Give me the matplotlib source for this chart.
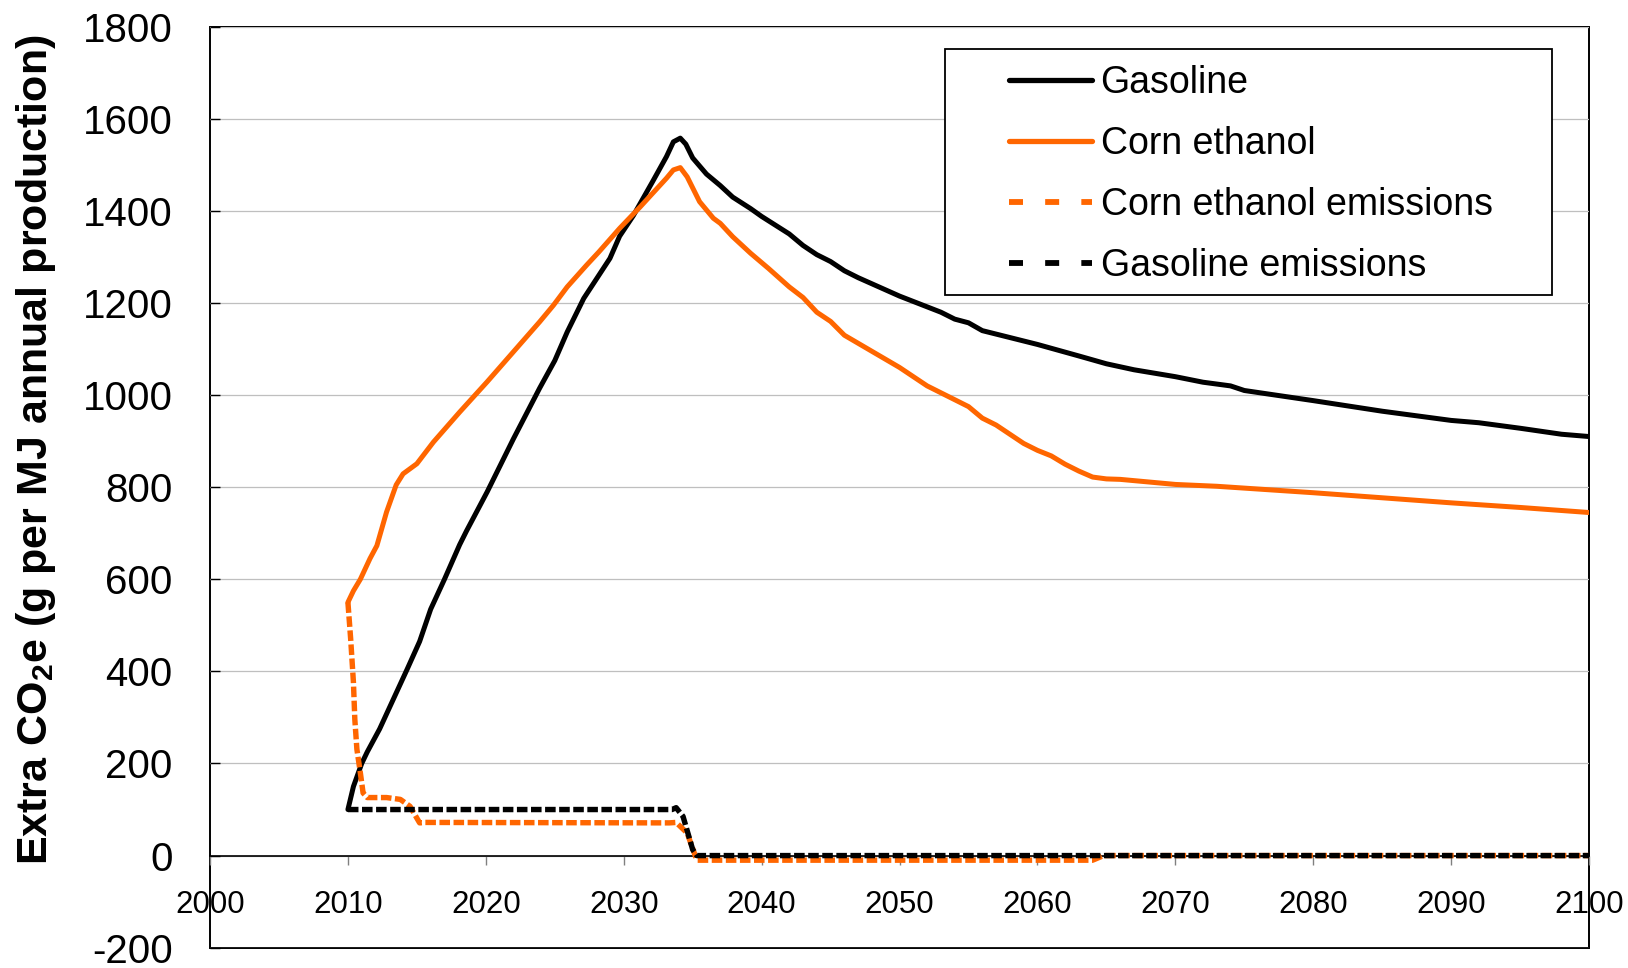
import matplotlib
matplotlib.use("Agg")
import matplotlib.pyplot as plt
from matplotlib.lines import Line2D
from matplotlib.patches import Rectangle
from matplotlib import font_manager as fm

# ---- data -------------------------------------------------------------
gasoline_years = [2010.0, 2010.4, 2011.0, 2011.4, 2012.3, 2013.3, 2014.3, 2015.2,
                  2016.0, 2017.0, 2018.1, 2018.6, 2020.1, 2022.0, 2023.9, 2025.0,
                  2025.9, 2027.1, 2029.0, 2029.7, 2030.7, 2032.1, 2033.1, 2033.6,
                  2034.1, 2034.5, 2035.0, 2036.0, 2037.0, 2037.9, 2039.2, 2040.0,
                  2042.0, 2043.0, 2044.0, 2045.0, 2046.0, 2047.0, 2050.0, 2053.0,
                  2054.0, 2055.0, 2056.0, 2060.0, 2063.0, 2065.0, 2067.0, 2070.0,
                  2072.0, 2074.0, 2075.0, 2080.0, 2085.0, 2090.0, 2092.0, 2095.0,
                  2098.0, 2100.0]
gasoline = [100, 150, 200, 225, 275, 340, 405, 465,
            535, 600, 675, 705, 790, 905, 1015, 1075,
            1137, 1210, 1297, 1345, 1390, 1464, 1518, 1550,
            1558, 1545, 1515, 1480, 1455, 1430, 1405, 1388,
            1350, 1325, 1305, 1290, 1270, 1255, 1215, 1180,
            1165, 1157, 1140, 1110, 1085, 1068, 1055, 1040,
            1028, 1020, 1010, 988, 965, 945, 940, 928,
            915, 910]

ethanol_years = [2010.0, 2010.4, 2010.9, 2011.6, 2012.1, 2012.8, 2013.5, 2014.0,
                 2015.0, 2016.2, 2018.1, 2020.1, 2022.0, 2023.9, 2024.9, 2025.9,
                 2027.3, 2028.2, 2029.7, 2031.2, 2033.1, 2033.6, 2034.1, 2034.6,
                 2035.5, 2036.5, 2037.0, 2037.9, 2039.2, 2040.5, 2042.0, 2043.0,
                 2044.0, 2045.0, 2046.0, 2048.0, 2050.0, 2051.0, 2052.0, 2053.0,
                 2055.0, 2056.0, 2057.0, 2058.0, 2059.0, 2060.0, 2061.0, 2062.0,
                 2063.0, 2064.0, 2065.0, 2066.0, 2070.0, 2073.0, 2075.0, 2080.0,
                 2085.0, 2090.0, 2095.0, 2100.0]
ethanol = [550, 575, 600, 645, 673, 746, 805, 829,
           851, 898, 963, 1029, 1094, 1159, 1195, 1235,
           1282, 1311, 1362, 1409, 1471, 1489, 1494, 1474,
           1420, 1384, 1373, 1344, 1308, 1275, 1235, 1212,
           1180, 1160, 1130, 1095, 1060, 1040, 1020, 1005,
           975, 950, 935, 915, 895, 880, 868, 850,
           835, 822, 818, 817, 806, 802, 798, 788,
           777, 766, 756, 745]

ethanol_emis_years = [2010.0, 2010.2, 2010.4, 2010.5, 2010.65, 2010.9, 2011.1, 2011.4,
                      2012.8, 2013.8, 2014.5, 2015.2, 2015.6, 2033.3, 2033.8, 2034.6,
                      2035.3, 2064.0, 2064.8, 2100.0]
ethanol_emis = [550, 470, 376, 296, 231, 180, 136, 126,
                126, 122, 107, 71, 72, 71, 72, 49,
                -10, -10, 0, 0]

gasoline_emis_years = [2010.0, 2033.5, 2033.8, 2034.3, 2035.0, 2035.3, 2100.0]
gasoline_emis = [100, 100, 104, 85, 13, 0, 0]

x_ticks = list(range(2000, 2101, 10))
y_ticks = list(range(-200, 1801, 200))
series_labels = ["Gasoline", "Corn ethanol", "Corn ethanol emissions", "Gasoline emissions"]
y_label = r"Extra CO$_{\mathbf{2}}$e (g per MJ annual production)"

# ---- styling ----------------------------------------------------------
ORANGE = "#FF6600"
BLACK = "#000000"

installed = {f.name for f in fm.fontManager.ttflist}
if "Liberation Sans Narrow" in installed:
    label_family, label_size = "Liberation Sans Narrow", 38
else:
    label_family, label_size = "Liberation Sans", 31

plt.rcParams["font.family"] = ["Liberation Sans", "DejaVu Sans"]
plt.rcParams["axes.unicode_minus"] = False
plt.rcParams["mathtext.fontset"] = "custom"
plt.rcParams["mathtext.rm"] = f"{label_family}:bold"
plt.rcParams["mathtext.bf"] = f"{label_family}:bold"
plt.rcParams["mathtext.it"] = f"{label_family}:bold"

fig = plt.figure(figsize=(16.28, 9.68), dpi=100)
ax = fig.add_axes([0.1290, 0.0210, 0.9761 - 0.1290, 0.9724 - 0.0210])

ax.set_xlim(2000, 2100)
ax.set_ylim(-200, 1800)

# plot-area frame
ax.patch.set_edgecolor("black")
ax.patch.set_linewidth(1.4)
for side in ("top", "right", "left"):
    ax.spines[side].set_visible(False)
ax.spines["bottom"].set_position(("data", 0))
ax.spines["bottom"].set_linewidth(1.2)
ax.spines["bottom"].set_zorder(1.5)

ax.set_yticks(y_ticks)
ax.set_yticklabels([str(v) for v in y_ticks])
ax.set_xticks(x_ticks)
ax.set_xticklabels([str(v) for v in x_ticks])
ax.tick_params(axis="y", direction="in", length=7, width=1, color="black",
               labelsize=29, pad=27)
ax.tick_params(axis="x", direction="out", length=6.5, width=1, color="#808080",
               labelsize=22.5, pad=18)
ax.yaxis.grid(True, color="#BFBFBF", linewidth=0.9)
ax.set_axisbelow(True)

solid_kw = dict(linewidth=3.6, solid_joinstyle="round", solid_capstyle="round")
dash_kw = dict(linewidth=3.9, dash_capstyle="butt", dash_joinstyle="round")
data_dash = (0, (1.95, 0.65))

ax.plot(gasoline_years, gasoline, color=BLACK, zorder=3, **solid_kw)
ax.plot(ethanol_years, ethanol, color=ORANGE, zorder=3, **solid_kw)
ax.plot(ethanol_emis_years, ethanol_emis, color=ORANGE, linestyle=data_dash,
        zorder=4, **dash_kw)
ax.plot(gasoline_emis_years, gasoline_emis, color=BLACK, linestyle=data_dash,
        zorder=5, **dash_kw)

# legend: entries without frame, plus a separate square box
legend_dash = (0, (2.4, 3.8))
handles = [
    Line2D([], [], color=BLACK, linewidth=3.8, solid_capstyle="round"),
    Line2D([], [], color=ORANGE, linewidth=3.8, solid_capstyle="round"),
    Line2D([], [], color=ORANGE, linewidth=4.2, linestyle=legend_dash,
           dash_capstyle="butt"),
    Line2D([], [], color=BLACK, linewidth=4.2, linestyle=legend_dash,
           dash_capstyle="butt"),
]
leg = ax.legend(handles, series_labels, loc="upper left",
                bbox_to_anchor=(0.5794, 0.9587), frameon=False,
                borderpad=0, borderaxespad=0, handlelength=2.22,
                handletextpad=0.22, labelspacing=0.67, fontsize=27)
ax.add_patch(Rectangle((0.533, 0.7087), 0.973 - 0.533, 0.9758 - 0.7087,
                       transform=ax.transAxes, facecolor="white",
                       edgecolor="black", linewidth=1.3, zorder=6))
leg.set_zorder(7)

fig.text(0.0221, 0.535, y_label, rotation=90, ha="center", va="center",
         fontsize=label_size, fontweight="bold", family=label_family)

fig.savefig("out.png", dpi=100)
